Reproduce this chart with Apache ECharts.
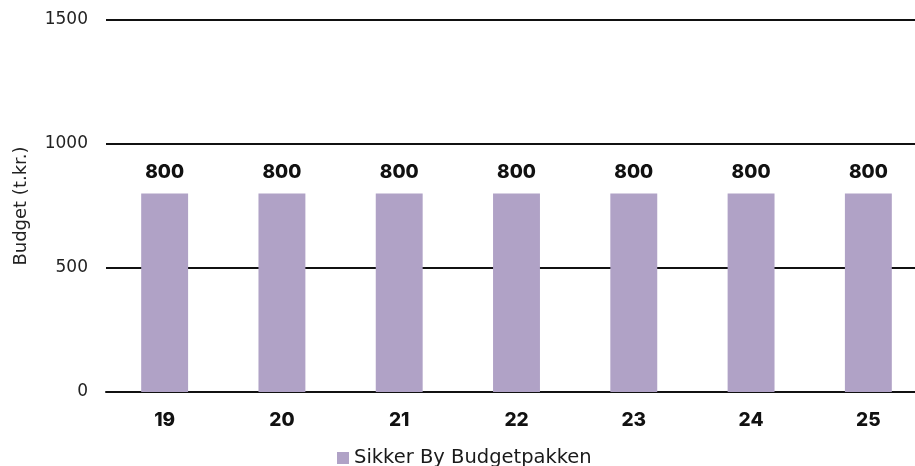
<!DOCTYPE html>
<html><head><meta charset="utf-8">
<script src="https://cdn.jsdelivr.net/npm/echarts@6/dist/echarts.min.js"></script>
<style>html,body{margin:0;padding:0;background:#fff}#c{width:915px;height:466px}</style>
</head><body><div id="c"></div>
<script>
const categories = ['19','20','21','22','23','24','25'];
const seriesName = 'Sikker By Budgetpakken';
const values = [800,800,800,800,800,800,800];
const yTicks = [0,500,1000,1500];

const chart = echarts.init(document.getElementById('c'));
chart.setOption({
  animation:false,
  textStyle:{fontFamily:'Inter, "Noto Sans", sans-serif'},
  grid:{left:106,right:-12,top:20,bottom:74,containLabel:false,outerBoundsMode:'none'},
  legend:{top:443,left:332,itemWidth:12,itemHeight:12,itemGap:5,
    icon:'rect',textStyle:{fontSize:19.5,color:'#1a1a1a',fontFamily:'"DejaVu Sans", sans-serif'},data:[seriesName]},
  xAxis:{type:'category',data:categories,
    axisLine:{show:true,lineStyle:{color:'#111',width:2}},axisTick:{show:false},
    axisLabel:{fontSize:19,fontWeight:800,color:'#111',margin:19}},
  yAxis:{type:'value',min:yTicks[0],max:yTicks[yTicks.length-1],interval:500,
    name:'Budget (t.kr.)',nameLocation:'middle',nameGap:76,nameRotate:90,
    nameTextStyle:{fontSize:18,color:'#222',fontFamily:'"DejaVu Sans", sans-serif'},
    axisLine:{show:false},axisTick:{show:false},
    axisLabel:{fontSize:17,color:'#222',margin:18,fontFamily:'"DejaVu Sans", sans-serif',formatter:v=>String(v)},
    splitLine:{lineStyle:{color:'#111',width:2}}},
  series:[{name:seriesName,type:'bar',data:values,barWidth:'40%',
    itemStyle:{color:'#b0a2c6'},
    label:{show:true,position:'top',distance:12,fontSize:19,fontWeight:800,color:'#111'}}]
});
</script></body></html>
